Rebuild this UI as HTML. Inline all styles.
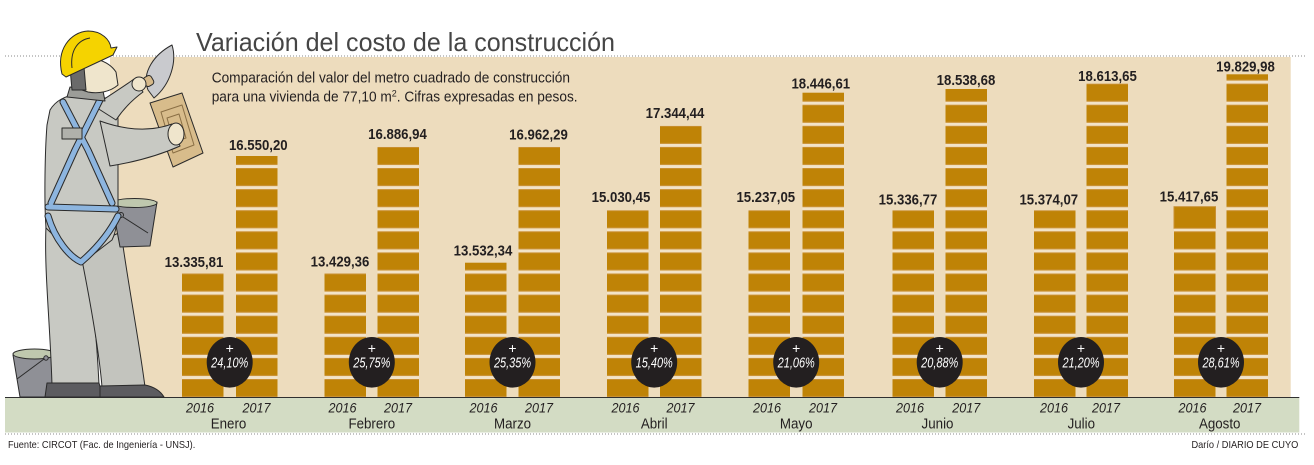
<!DOCTYPE html>
<html>
<head>
<meta charset="utf-8">
<style>
  html,body{margin:0;padding:0;background:#fff;}
  svg{display:block;}
  text{font-family:"Liberation Sans",sans-serif;}
</style>
</head>
<body>
<svg width="1314" height="465" viewBox="0 0 1314 465" xmlns="http://www.w3.org/2000/svg">
  <defs>
    <pattern id="br" patternUnits="userSpaceOnUse" x="0" y="379" width="1314" height="21.1">
      <rect width="1314" height="21.1" fill="#F2E3C8"/>
      <rect width="1314" height="18" fill="#BF8306"/>
      <rect y="0.5" width="1314" height="17" fill="none" stroke="#C99033" stroke-width="1"/>
    </pattern>
  </defs>

  <rect width="1314" height="465" fill="#ffffff"/>
  <!-- beige panel -->
  <rect x="110" y="57" width="1180.7" height="340" fill="#EDDCBD"/>

  <!-- dotted lines -->
  <line x1="5" y1="56" x2="1307" y2="56" stroke="#8a8a8a" stroke-width="1" stroke-dasharray="1 2"/>
  <line x1="5" y1="434" x2="1307" y2="434" stroke="#8a8a8a" stroke-width="1" stroke-dasharray="1 2"/>

  <!-- title -->
  <text x="196" y="51" font-size="26" fill="#454545" textLength="419" lengthAdjust="spacingAndGlyphs">Variación del costo de la construcción</text>

  <!-- subtitle -->
  <text x="211.7" y="82.3" font-size="14.5" fill="#231F20" textLength="358.3" lengthAdjust="spacingAndGlyphs">Comparación del valor del metro cuadrado de construcción</text>
  <g transform="translate(211.7,101.7) scale(0.944,1)">
    <text x="0" y="0" font-size="14.5" fill="#231F20">para una vivienda de 77,10 m<tspan dy="-5" font-size="9.5">2</tspan><tspan dy="5">. Cifras expresadas en pesos.</tspan></text>
  </g>

  <!-- bottom band -->
  <rect x="5" y="397" width="1294.3" height="35.5" fill="#D3DCC4"/>

  <!-- bars -->
  <g>
    <rect x="182" y="273.5" width="41.5" height="123.5" fill="url(#br)"/>
    <rect x="236" y="156" width="41.5" height="241" fill="url(#br)"/>

    <rect x="324.5" y="273.5" width="41.5" height="123.5" fill="url(#br)"/>
    <rect x="377.5" y="146.9" width="41.5" height="250.1" fill="url(#br)"/>

    <rect x="465" y="262.7" width="41.5" height="134.3" fill="url(#br)"/>
    <rect x="518.5" y="146.9" width="41.5" height="250.1" fill="url(#br)"/>

    <rect x="607" y="210.2" width="41.5" height="186.8" fill="url(#br)"/>
    <rect x="660" y="125.8" width="41.5" height="271.2" fill="url(#br)"/>

    <rect x="748.5" y="210.2" width="41.5" height="186.8" fill="url(#br)"/>
    <rect x="802.5" y="92.7" width="41.5" height="304.3" fill="url(#br)"/>

    <rect x="892.5" y="210.2" width="41.5" height="186.8" fill="url(#br)"/>
    <rect x="945.5" y="89" width="41.5" height="308" fill="url(#br)"/>

    <rect x="1034" y="210.2" width="41.5" height="186.8" fill="url(#br)"/>
    <rect x="1086.5" y="83.6" width="41.5" height="313.4" fill="url(#br)"/>

    <rect x="1174" y="210.2" width="41.5" height="186.8" fill="url(#br)"/>
    <rect x="1174" y="206.7" width="41.5" height="21.5" fill="#BF8306" stroke="#C99033" stroke-width="1"/>
    <rect x="1226.5" y="74.3" width="41.5" height="322.7" fill="url(#br)"/>
  </g>

  <!-- band top line -->
  <line x1="5" y1="397.5" x2="1299.3" y2="397.5" stroke="#2f2f2f" stroke-width="1"/>

  <!-- value labels -->
  <g font-size="15" font-weight="bold" fill="#231F20" text-anchor="middle">
    <g transform="translate(194,267) scale(0.88,1)"><text>13.335,81</text></g>
    <g transform="translate(258.3,150) scale(0.88,1)"><text>16.550,20</text></g>
    <g transform="translate(340,266.5) scale(0.88,1)"><text>13.429,36</text></g>
    <g transform="translate(397.5,139) scale(0.88,1)"><text>16.886,94</text></g>
    <g transform="translate(483,255.5) scale(0.88,1)"><text>13.532,34</text></g>
    <g transform="translate(538.5,139.5) scale(0.88,1)"><text>16.962,29</text></g>
    <g transform="translate(621,202) scale(0.88,1)"><text>15.030,45</text></g>
    <g transform="translate(675,118) scale(0.88,1)"><text>17.344,44</text></g>
    <g transform="translate(765.8,202) scale(0.88,1)"><text>15.237,05</text></g>
    <g transform="translate(820.8,88.3) scale(0.88,1)"><text>18.446,61</text></g>
    <g transform="translate(908,204.3) scale(0.88,1)"><text>15.336,77</text></g>
    <g transform="translate(966,85) scale(0.88,1)"><text>18.538,68</text></g>
    <g transform="translate(1048.8,204.3) scale(0.88,1)"><text>15.374,07</text></g>
    <g transform="translate(1107.5,81) scale(0.88,1)"><text>18.613,65</text></g>
    <g transform="translate(1189,201.5) scale(0.88,1)"><text>15.417,65</text></g>
    <g transform="translate(1245.5,71.7) scale(0.88,1)"><text>19.829,98</text></g>
  </g>

  <!-- percentage circles -->
  <g fill="#231F20">
    <ellipse cx="229.7" cy="362.3" rx="23" ry="25.3"/>
    <ellipse cx="371.8" cy="362.3" rx="23" ry="25.3"/>
    <ellipse cx="512.5" cy="362.3" rx="23" ry="25.3"/>
    <ellipse cx="654.2" cy="362.3" rx="23" ry="25.3"/>
    <ellipse cx="796.2" cy="362.3" rx="23" ry="25.3"/>
    <ellipse cx="939.7" cy="362.3" rx="23" ry="25.3"/>
    <ellipse cx="1081" cy="362.3" rx="23" ry="25.3"/>
    <ellipse cx="1221" cy="362.3" rx="23" ry="25.3"/>
  </g>
  <g fill="#ffffff" text-anchor="middle">
    <g font-size="14">
      <text x="229.7" y="353">+</text>
      <text x="371.8" y="353">+</text>
      <text x="512.5" y="353">+</text>
      <text x="654.2" y="353">+</text>
      <text x="796.2" y="353">+</text>
      <text x="939.7" y="353">+</text>
      <text x="1081" y="353">+</text>
      <text x="1221" y="353">+</text>
    </g>
    <g font-size="15" font-style="italic">
      <g transform="translate(229.7,367.7) scale(0.73,1)"><text>24,10%</text></g>
      <g transform="translate(371.8,367.7) scale(0.73,1)"><text>25,75%</text></g>
      <g transform="translate(512.5,367.7) scale(0.73,1)"><text>25,35%</text></g>
      <g transform="translate(654.2,367.7) scale(0.73,1)"><text>15,40%</text></g>
      <g transform="translate(796.2,367.7) scale(0.73,1)"><text>21,06%</text></g>
      <g transform="translate(939.7,367.7) scale(0.73,1)"><text>20,88%</text></g>
      <g transform="translate(1081,367.7) scale(0.73,1)"><text>21,20%</text></g>
      <g transform="translate(1221,367.7) scale(0.73,1)"><text>28,61%</text></g>
    </g>
  </g>

  <!-- year labels -->
  <g font-size="14" font-style="italic" fill="#231F20" text-anchor="middle">
    <g transform="translate(200,412.7) scale(0.9,1)"><text>2016</text></g>
    <g transform="translate(256.5,412.7) scale(0.9,1)"><text>2017</text></g>
    <g transform="translate(342.5,412.7) scale(0.9,1)"><text>2016</text></g>
    <g transform="translate(398,412.7) scale(0.9,1)"><text>2017</text></g>
    <g transform="translate(483.5,412.7) scale(0.9,1)"><text>2016</text></g>
    <g transform="translate(539,412.7) scale(0.9,1)"><text>2017</text></g>
    <g transform="translate(625.5,412.7) scale(0.9,1)"><text>2016</text></g>
    <g transform="translate(680.5,412.7) scale(0.9,1)"><text>2017</text></g>
    <g transform="translate(767,412.7) scale(0.9,1)"><text>2016</text></g>
    <g transform="translate(823,412.7) scale(0.9,1)"><text>2017</text></g>
    <g transform="translate(910,412.7) scale(0.9,1)"><text>2016</text></g>
    <g transform="translate(966.3,412.7) scale(0.9,1)"><text>2017</text></g>
    <g transform="translate(1054,412.7) scale(0.9,1)"><text>2016</text></g>
    <g transform="translate(1106,412.7) scale(0.9,1)"><text>2017</text></g>
    <g transform="translate(1192.5,412.7) scale(0.9,1)"><text>2016</text></g>
    <g transform="translate(1247,412.7) scale(0.9,1)"><text>2017</text></g>
  </g>

  <!-- month labels -->
  <g font-size="15" fill="#231F20" text-anchor="middle">
    <g transform="translate(228.5,428.3) scale(0.89,1)"><text>Enero</text></g>
    <g transform="translate(371.8,428.3) scale(0.89,1)"><text>Febrero</text></g>
    <g transform="translate(512.5,428.3) scale(0.89,1)"><text>Marzo</text></g>
    <g transform="translate(654.2,428.3) scale(0.89,1)"><text>Abril</text></g>
    <g transform="translate(796.2,428.3) scale(0.89,1)"><text>Mayo</text></g>
    <g transform="translate(937.5,428.3) scale(0.89,1)"><text>Junio</text></g>
    <g transform="translate(1081.3,428.3) scale(0.89,1)"><text>Julio</text></g>
    <g transform="translate(1219.7,428.3) scale(0.89,1)"><text>Agosto</text></g>
  </g>

  <!-- footer -->
  <g font-size="10" fill="#231F20">
    <g transform="translate(8,448) scale(0.925,1)"><text>Fuente: CIRCOT (Fac. de Ingeniería - UNSJ).</text></g>
    <g transform="translate(1298.3,448) scale(0.925,1)"><text text-anchor="end">Darío / DIARIO DE CUYO</text></g>
  </g>

  <!-- worker illustration -->
  <g stroke="#2a2a2a" stroke-width="1" stroke-linejoin="round">
    <!-- ground bucket -->
    <path d="M13,355 L56,355 L50,397 L20,397 Z" fill="#8F9096"/>
    <ellipse cx="34.5" cy="354" rx="21.5" ry="5" fill="#BFC8AE"/>
    <path d="M17,379 L44,359" fill="none"/>
    <circle cx="46" cy="358" r="2.2" fill="#8F9096"/>

    <!-- legs -->
    <path d="M46,225 C44,270 50,320 52,385 L99,385 C97,340 93,300 86,262 Z" fill="#C8C9C3"/>
    <path d="M80,250 C90,300 99,350 102,387 L145,387 C139,340 129,290 121,232 Z" fill="#C3C4BE"/>
    <!-- shoes -->
    <path d="M47,383 L99,383 L103,397 L45,397 Z" fill="#5C5C60"/>
    <path d="M100,386 L145,385 C155,387 161,392 164,397 L100,397 Z" fill="#5C5C60"/>

    <!-- hip bucket -->
    <path d="M112,204 L157,202 L150,246 L120,247 Z" fill="#8F9096"/>
    <ellipse cx="134.5" cy="203" rx="22.5" ry="4.5" fill="#BFC8AE"/>
    <circle cx="121" cy="215" r="2.5" fill="#8F9096"/>
    <path d="M123,217 L148,233" fill="none"/>

    <!-- torso -->
    <path d="M50,110 C56,100 66,96 74,95 L106,98 C114,102 118,110 118,120 L118,205 C118,220 116,232 112,240 L82,263 L46,228 C44,200 45,150 47,125 Z" fill="#C8C9C3"/>

    <!-- raised arm -->
    <path d="M94,106 C108,96 122,88 134,79 L143,92 C132,100 124,108 116,120 Z" fill="#C8C9C3"/>
    <!-- trowel -->
    <path d="M148,90 C141,72 155,54 172,45 C177,61 171,84 154,98 Z" fill="#C9CACE"/>
    <rect x="144" y="76" width="9" height="10" rx="3" fill="#D6B98A" transform="rotate(-30 148.5 81)"/>
    <ellipse cx="139" cy="84" rx="7" ry="7" fill="#EFE5CC"/>

    <!-- float -->
    <path d="M150,103 L182,93 L203,153 L173,167 Z" fill="#D8BC8B"/>
    <path d="M161,112 L182,105 L194,145 L173,153 Z" fill="none" stroke="#8a6f45"/>
    <path d="M167,118 L179,114 L186,138 L174,142 Z" fill="none" stroke="#8a6f45"/>

    <!-- forward arm -->
    <path d="M100,121 C125,130 150,132 172,124 L180,146 C160,155 135,162 110,166 Z" fill="#C8C9C3"/>
    <ellipse cx="176" cy="134" rx="8" ry="11" fill="#EFE5CC"/>

    <!-- harness -->
    <g fill="none" stroke-linecap="round">
      <path d="M63,102 L88,150 L112,203" stroke="#2a2a2a" stroke-width="7"/>
      <path d="M100,100 L75,150 L51,203" stroke="#2a2a2a" stroke-width="7"/>
      <path d="M48,207 L116,209" stroke="#2a2a2a" stroke-width="7"/>
      <path d="M48,216 C55,240 70,257 81,262 C95,250 108,236 118,216" stroke="#2a2a2a" stroke-width="7"/>
      <path d="M63,102 L88,150 L112,203" stroke="#8DB5DF" stroke-width="5"/>
      <path d="M100,100 L75,150 L51,203" stroke="#8DB5DF" stroke-width="5"/>
      <path d="M48,207 L116,209" stroke="#8DB5DF" stroke-width="5"/>
      <path d="M48,216 C55,240 70,257 81,262 C95,250 108,236 118,216" stroke="#8DB5DF" stroke-width="5"/>
    </g>
    <rect x="62" y="128" width="20" height="11" fill="#B0B1AB"/>

    <!-- collar -->
    <path d="M70,87 L103,91 L105,101 L67,97 Z" fill="#9C9D98"/>
    <!-- head -->
    <path d="M74,60 C90,55 108,60 116,72 L118,85 C110,92 98,94 88,92 L76,88 Z" fill="#EFE5CC"/>
    <path d="M70,68 L84,67 L86,90 L72,90 Z" fill="#6A6A6A"/>
    <!-- helmet -->
    <path d="M62,74 C56,50 70,32 88,31 C102,31 110,40 111,48 L117,47 L113,55 L66,77 Z" fill="#F5D300"/>
    <path d="M72,68 C70,50 78,40 90,38" fill="none"/>
  </g>
</svg>
</body>
</html>
